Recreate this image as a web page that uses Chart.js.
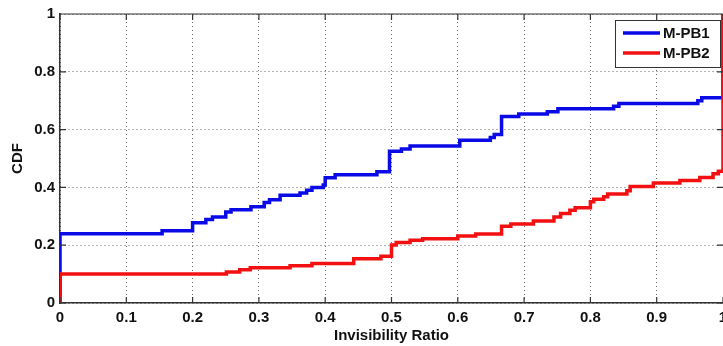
<!DOCTYPE html>
<html>
<head>
<meta charset="utf-8">
<title>CDF of Invisibility Ratio</title>
<script src="https://cdn.jsdelivr.net/npm/chart.js@4.4.1/dist/chart.umd.min.js"></script>
<style>
    html, body { margin: 0; padding: 0; background: #fff; }
    #wrap { width: 723px; height: 346px; }
</style>
</head>
<body>
<div id="wrap"><canvas id="cdfChart" width="723" height="346"></canvas></div>
<script>
// Step points: x where the CDF jumps, y after the jump
const pb1X = [0, 0, 0.154, 0.2, 0.22, 0.23, 0.25, 0.258, 0.288, 0.308, 0.316, 0.332, 0.362, 0.372, 0.38,
    0.397, 0.4, 0.415, 0.478, 0.497, 0.515, 0.528, 0.603, 0.649, 0.655, 0.666, 0.692, 0.735, 0.751,
    0.835, 0.843, 0.962, 0.968, 1.0, 1.0];
const pb1Y = [0, 0.24, 0.25, 0.278, 0.289, 0.298, 0.315, 0.323, 0.333, 0.348, 0.357, 0.373, 0.381, 0.39, 0.40,
    0.408, 0.433, 0.444, 0.454, 0.525, 0.533, 0.543, 0.563, 0.573, 0.583, 0.645, 0.654, 0.662, 0.672,
    0.681, 0.69, 0.70, 0.71, 0.71, 1.0];

const pb2X = [0, 0, 0.251, 0.271, 0.287, 0.347, 0.38, 0.443, 0.484, 0.5, 0.507, 0.528, 0.547, 0.6, 0.627,
    0.666, 0.68, 0.714, 0.745, 0.755, 0.769, 0.777, 0.8, 0.805, 0.82, 0.826, 0.855, 0.86, 0.895,
    0.935, 0.965, 0.985, 0.993, 1.0, 1.0];
const pb2Y = [0, 0.10, 0.107, 0.115, 0.122, 0.129, 0.137, 0.153, 0.162, 0.201, 0.209, 0.217, 0.222, 0.232, 0.239,
    0.266, 0.273, 0.284, 0.298, 0.31, 0.321, 0.33, 0.35, 0.359, 0.368, 0.377, 0.388, 0.403, 0.415,
    0.424, 0.434, 0.447, 0.456, 0.456, 1.0];

const seriesNames = ['M-PB1', 'M-PB2'];
const seriesColors = ['#0a0ae6', '#f21010'];
const xTicks = [0, 0.1, 0.2, 0.3, 0.4, 0.5, 0.6, 0.7, 0.8, 0.9, 1];
const yTicks = [0, 0.2, 0.4, 0.6, 0.8, 1];

const fontFamily = "'Liberation Sans', Arial, sans-serif";

function toPoints(xs, ys) {
    return xs.map((x, i) => ({ x: x, y: ys[i] }));
}

function fmt(v) {
    return String(Number(v.toFixed(1)));
}

// MATLAB style box, inward ticks and legend
const matlabFrame = {
    id: 'matlabFrame',
    afterDraw(chart) {
        const ctx = chart.ctx;
        const a = chart.chartArea;
        const xs = chart.scales.x;
        const ys = chart.scales.y;
        ctx.save();
        ctx.strokeStyle = '#333';
        ctx.lineWidth = 1.2;
        ctx.beginPath();
        ctx.moveTo(a.left, a.top);
        ctx.lineTo(a.right, a.top);
        const len = 6;
        xTicks.forEach(v => {
            const px = xs.getPixelForValue(v);
            ctx.moveTo(px, a.bottom);
            ctx.lineTo(px, a.bottom - len);
            ctx.moveTo(px, a.top);
            ctx.lineTo(px, a.top + len);
        });
        yTicks.forEach(v => {
            const py = ys.getPixelForValue(v);
            ctx.moveTo(a.left, py);
            ctx.lineTo(a.left + len, py);
            ctx.moveTo(a.right, py);
            ctx.lineTo(a.right - len, py);
        });
        ctx.stroke();

        // legend box
        const bx = 615, by = 20, bw = 105, bh = 47;
        ctx.fillStyle = '#fff';
        ctx.fillRect(bx, by, bw, bh);
        ctx.strokeStyle = '#333';
        ctx.lineWidth = 1;
        ctx.strokeRect(bx + 0.5, by + 0.5, bw, bh);
        ctx.font = 'bold 15px ' + fontFamily;
        ctx.textBaseline = 'middle';
        ctx.textAlign = 'left';
        seriesNames.forEach((name, i) => {
            const ly = by + 13 + i * 20;
            ctx.strokeStyle = seriesColors[i];
            ctx.lineWidth = 3.5;
            ctx.beginPath();
            ctx.moveTo(bx + 8, ly);
            ctx.lineTo(bx + 45, ly);
            ctx.stroke();
            ctx.fillStyle = '#111';
            ctx.fillText(name, bx + 48, ly + 1);
        });
        ctx.restore();
    }
};

const ctx = document.getElementById('cdfChart');

new Chart(ctx, {
    type: 'line',
    data: {
        datasets: [
            {
                label: seriesNames[0],
                data: toPoints(pb1X, pb1Y),
                borderColor: seriesColors[0],
                borderWidth: 3.5,
                stepped: 'before',
                pointRadius: 0,
                fill: false,
                order: 1
            },
            {
                label: seriesNames[1],
                data: toPoints(pb2X, pb2Y),
                borderColor: seriesColors[1],
                borderWidth: 3.5,
                stepped: 'before',
                pointRadius: 0,
                fill: false,
                order: 0
            }
        ]
    },
    options: {
        responsive: false,
        animation: false,
        devicePixelRatio: 1,
        layout: {
            padding: { top: 14, left: 0, right: 0, bottom: 0 }
        },
        plugins: {
            legend: { display: false },
            tooltip: { enabled: false }
        },
        scales: {
            x: {
                type: 'linear',
                min: 0,
                max: 1,
                afterBuildTicks: scale => { scale.ticks = xTicks.map(v => ({ value: v })); },
                afterFit: scale => {
                    scale.height = 43;
                    scale.paddingLeft = 0;
                    scale.paddingRight = 0;
                },
                grid: {
                    color: '#666',
                    lineWidth: 1,
                    drawTicks: false
                },
                border: { color: '#333', width: 1.5, dash: [1, 3] },
                ticks: {
                    padding: 6,
                    maxRotation: 0,
                    color: '#111',
                    font: { family: fontFamily, size: 15, weight: 'bold' },
                    callback: v => fmt(v)
                },
                title: {
                    display: true,
                    text: 'Invisibility Ratio',
                    color: '#111',
                    padding: { top: 0, bottom: 1 },
                    font: { family: fontFamily, size: 15, weight: 'bold' }
                }
            },
            y: {
                type: 'linear',
                min: 0,
                max: 1,
                afterBuildTicks: scale => { scale.ticks = yTicks.map(v => ({ value: v })); },
                afterFit: scale => {
                    scale.width = 60;
                    scale.paddingTop = 0;
                    scale.paddingBottom = 0;
                },
                grid: {
                    color: '#666',
                    lineWidth: 1,
                    drawTicks: false
                },
                border: { color: '#333', width: 1.5, dash: [1, 3] },
                ticks: {
                    padding: 5,
                    color: '#111',
                    font: { family: fontFamily, size: 15, weight: 'bold' },
                    callback: v => fmt(v)
                },
                title: {
                    display: true,
                    text: 'CDF',
                    color: '#111',
                    padding: { top: 9, bottom: 0 },
                    font: { family: fontFamily, size: 15, weight: 'bold' }
                }
            }
        }
    },
    plugins: [matlabFrame]
});
</script>
</body>
</html>
